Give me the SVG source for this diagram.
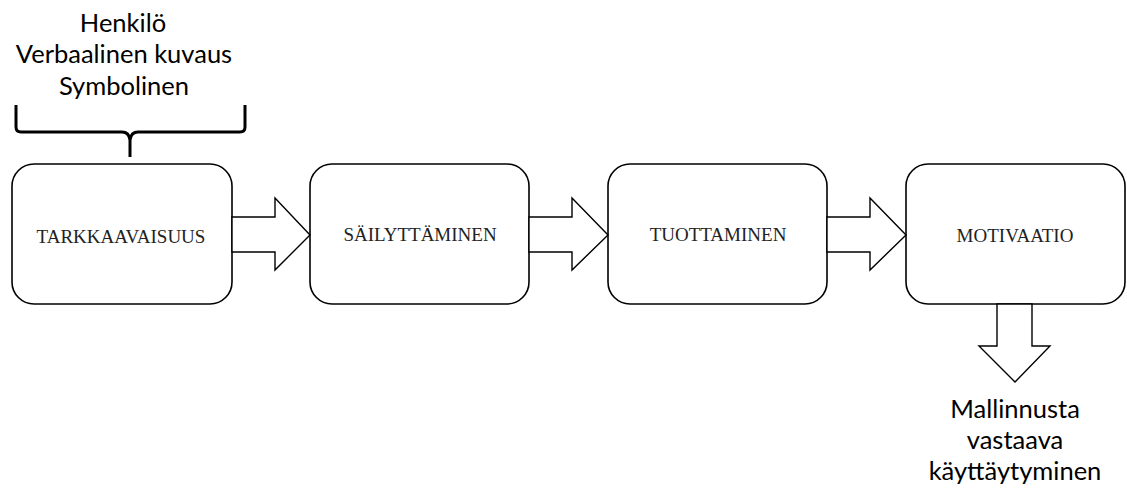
<svg xmlns="http://www.w3.org/2000/svg" width="1127" height="497" viewBox="0 0 1127 497">
<style>
.box{fill:#fff;stroke:#000;stroke-width:1.6}
.arr{fill:#fff;stroke:#000;stroke-width:1.4;stroke-linejoin:miter}
.lbl{font-family:"Liberation Serif",serif;font-size:19px;fill:#222;text-anchor:middle}
.note{font-family:Lato,"Open Sans",sans-serif;font-size:25.5px;fill:#000;text-anchor:middle}
</style>
<rect width="1127" height="497" fill="#fff"/>
<g id="annotation-top">
<text class="note" x="123" y="32">Henkilö</text>
<text class="note" x="124" y="63">Verbaalinen kuvaus</text>
<text class="note" x="124" y="95">Symbolinen</text>
<path d="M16,105 V127 Q16,132 21,132 H122 Q129,132 130,140 V157 M245,105 V127 Q245,132 240,132 H138 Q131,132 130,140" fill="none" stroke="#000" stroke-width="3"/>
</g>
<g id="node-tarkkaavaisuus">
<rect class="box" x="12" y="164" width="220" height="140" rx="22"/>
<text class="lbl" x="121" y="243">TARKKAAVAISUUS</text>
</g>
<g id="node-sailyttaminen">
<rect class="box" x="310" y="164" width="219" height="140" rx="22"/>
<text class="lbl" x="420" y="241">SÄILYTTÄMINEN</text>
</g>
<g id="node-tuottaminen">
<rect class="box" x="608" y="164" width="219" height="140" rx="22"/>
<text class="lbl" x="718" y="241">TUOTTAMINEN</text>
</g>
<g id="node-motivaatio">
<rect class="box" x="906" y="164" width="219" height="140" rx="22"/>
<text class="lbl" x="1015" y="242">MOTIVAATIO</text>
</g>
<g id="connectors">
<polygon class="arr" points="232,217 275,217 275,198 310,235 275,270 275,252 232,252"/>
<polygon class="arr" points="529,217 572,217 572,198 608,235 572,270 572,252 529,252"/>
<polygon class="arr" points="827,217 870,217 870,198 906,235 870,270 870,252 827,252"/>
<polygon class="arr" points="997,304 1032,304 1032,346 1050,346 1015,382 979,346 997,346"/>
</g>
<g id="annotation-bottom">
<text class="note" x="1015" y="418">Mallinnusta</text>
<text class="note" x="1015" y="449">vastaava</text>
<text class="note" x="1015" y="480">käyttäytyminen</text>
</g>
</svg>
